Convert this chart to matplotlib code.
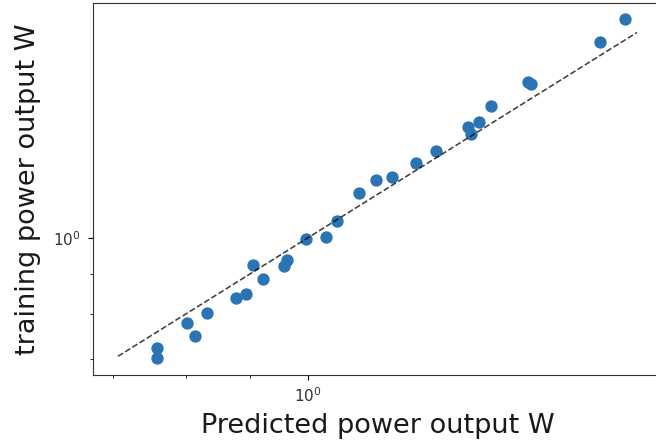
import matplotlib
matplotlib.use("Agg")
import matplotlib.pyplot as plt

# Predicted vs. training power output (W)
predicted_power = [0.759, 0.759, 0.801, 0.813, 0.832, 0.876, 0.893, 0.905, 0.921,
                   0.958, 0.963, 0.997, 1.035, 1.056, 1.099, 1.133, 1.167, 1.219,
                   1.265, 1.342, 1.349, 1.369, 1.399, 1.498, 1.507, 1.710, 1.789]
training_power = [0.724, 0.703, 0.778, 0.750, 0.801, 0.839, 0.847, 0.923, 0.886,
                  0.922, 0.937, 0.998, 1.004, 1.051, 1.141, 1.186, 1.198, 1.248,
                  1.293, 1.385, 1.358, 1.408, 1.473, 1.582, 1.572, 1.781, 1.903]

# identity reference line (y = x)
identity_range = [0.706, 1.830]

fig = plt.figure(figsize=(6.56, 4.45), dpi=100)
ax = fig.add_axes([92.7 / 656, (445 - 374.6) / 445,
                   (662.8 - 92.7) / 656, (374.6 - 3.0) / 445])

ax.scatter(predicted_power, training_power, s=62, color="#2a74b4", zorder=2)
ax.plot(identity_range, identity_range, "k--", alpha=0.75, lw=1.15, zorder=3)

ax.set_xscale("log")
ax.set_yscale("log")
ax.set_xlim(0.674, 1.919)
ax.set_ylim(0.669, 1.996)

ax.tick_params(axis="both", which="major", labelsize=11, labelcolor="#333333", pad=5)
ax.tick_params(axis="both", which="minor", labelleft=False, labelbottom=False)
for sp in ax.spines.values():
    sp.set_color("#333333")

ax.set_xlabel("Predicted power output W", fontsize=19.5, color="#1a1a1a", labelpad=6)
ax.set_ylabel("training power output W", fontsize=19.5, color="#1a1a1a", labelpad=9)

fig.savefig("out.png", dpi=100)
